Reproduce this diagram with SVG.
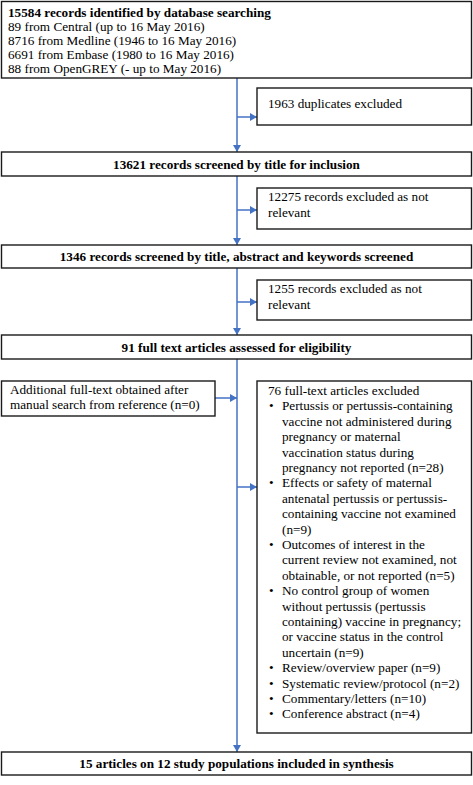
<svg xmlns="http://www.w3.org/2000/svg" width="473" height="785" viewBox="0 0 473 785">
<style>
.box{fill:#fff;stroke:#1a1a1a;stroke-width:1.4}
text{font-family:"Liberation Serif","Times New Roman",serif;font-size:13.2px;fill:#000}
.b{font-weight:bold}
.c{text-anchor:middle}
.ln{stroke:#4472C4;stroke-width:1.5;fill:none}
</style>
<defs>
<marker id="ah" markerWidth="8" markerHeight="8" refX="7" refY="4" orient="auto" markerUnits="userSpaceOnUse">
<path d="M0,0 L7,4 L0,8 Z" fill="#4472C4"/>
</marker>
</defs>
<rect width="473" height="785" fill="#fff"/>
<g id="connectors">
<line class="ln" x1="237" y1="78" x2="237" y2="152" marker-end="url(#ah)"/>
<line class="ln" x1="237" y1="176" x2="237" y2="245" marker-end="url(#ah)"/>
<line class="ln" x1="237" y1="268" x2="237" y2="335" marker-end="url(#ah)"/>
<line class="ln" x1="237" y1="359" x2="237" y2="752" marker-end="url(#ah)"/>
<line class="ln" x1="237" y1="117" x2="257" y2="117" marker-end="url(#ah)"/>
<line class="ln" x1="237" y1="210" x2="257" y2="210" marker-end="url(#ah)"/>
<line class="ln" x1="237" y1="302" x2="257" y2="302" marker-end="url(#ah)"/>
<line class="ln" x1="237" y1="487" x2="257" y2="487" marker-end="url(#ah)"/>
<line class="ln" x1="215" y1="398" x2="237" y2="398" marker-end="url(#ah)"/>
</g>
<g id="identified">
<rect class="box" x="1.5" y="1.5" width="470" height="76.5"/>
<text x="8" y="17" class="b">15584 records identified by database searching</text>
<text x="8" y="31">89 from Central (up to 16 May 2016)</text>
<text x="8" y="45">8716 from Medline (1946 to 16 May 2016)</text>
<text x="8" y="59">6691 from Embase (1980 to 16 May 2016)</text>
<text x="8" y="73">88 from OpenGREY (- up to May 2016)</text>
</g>
<g id="duplicates">
<rect class="box" x="257" y="88" width="214.5" height="37"/>
<text x="268" y="108">1963 duplicates excluded</text>
</g>
<g id="screened-title">
<rect class="box" x="1.5" y="152" width="470" height="24"/>
<text x="236.5" y="168.5" class="b c">13621 records screened by title for inclusion</text>
</g>
<g id="excluded-1">
<rect class="box" x="257" y="188" width="214.5" height="41"/>
<text x="268" y="201">12275 records excluded as not</text>
<text x="268" y="217">relevant</text>
</g>
<g id="screened-abstract">
<rect class="box" x="1.5" y="245" width="470" height="23"/>
<text x="236.5" y="261" class="b c">1346 records screened by title, abstract and keywords screened</text>
</g>
<g id="excluded-2">
<rect class="box" x="257" y="280" width="214.5" height="40"/>
<text x="268" y="293">1255 records excluded as not</text>
<text x="268" y="309">relevant</text>
</g>
<g id="eligibility">
<rect class="box" x="1.5" y="335" width="470" height="24"/>
<text x="236.5" y="351.5" class="b c">91 full text articles assessed for eligibility</text>
</g>
<g id="additional">
<rect class="box" x="1.5" y="381" width="213.5" height="35"/>
<text x="10" y="394">Additional full-text obtained after</text>
<text x="10" y="409">manual search from reference (n=0)</text>
</g>
<g id="excluded-3">
<rect class="box" x="257" y="381" width="214.5" height="352"/>
<text x="268" y="395">76 full-text articles excluded</text>
<text x="269" y="410.4">•</text><text x="282" y="410.4">Pertussis or pertussis-containing</text>
<text x="282" y="425.8">vaccine not administered during</text>
<text x="282" y="441.2">pregnancy or maternal</text>
<text x="282" y="456.6">vaccination status during</text>
<text x="282" y="472">pregnancy not reported (n=28)</text>
<text x="269" y="487.4">•</text><text x="282" y="487.4">Effects or safety of maternal</text>
<text x="282" y="502.8">antenatal pertussis or pertussis-</text>
<text x="282" y="518.2">containing vaccine not examined</text>
<text x="282" y="533.6">(n=9)</text>
<text x="269" y="549">•</text><text x="282" y="549">Outcomes of interest in the</text>
<text x="282" y="564.4">current review not examined, not</text>
<text x="282" y="579.8">obtainable, or not reported (n=5)</text>
<text x="269" y="595.2">•</text><text x="282" y="595.2">No control group of women</text>
<text x="282" y="610.6">without pertussis (pertussis</text>
<text x="282" y="626">containing) vaccine in pregnancy;</text>
<text x="282" y="641.4">or vaccine status in the control</text>
<text x="282" y="656.8">uncertain (n=9)</text>
<text x="269" y="672.2">•</text><text x="282" y="672.2">Review/overview paper (n=9)</text>
<text x="269" y="687.6">•</text><text x="282" y="687.6">Systematic review/protocol (n=2)</text>
<text x="269" y="703">•</text><text x="282" y="703">Commentary/letters (n=10)</text>
<text x="269" y="718.4">•</text><text x="282" y="718.4">Conference abstract (n=4)</text>
</g>
<g id="included">
<rect class="box" x="1.5" y="752" width="470" height="23"/>
<text x="236.5" y="768" class="b c">15 articles on 12 study populations included in synthesis</text>
</g>
</svg>
